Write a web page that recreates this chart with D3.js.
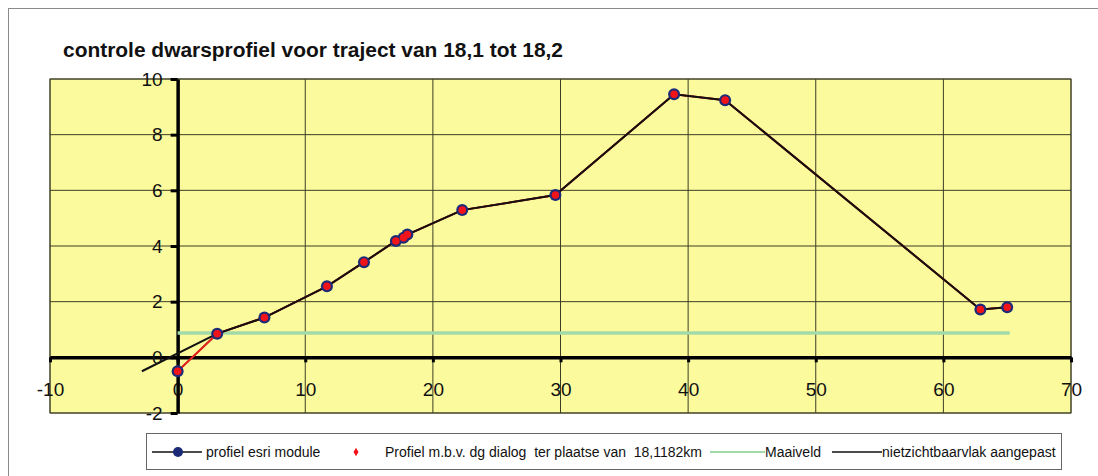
<!DOCTYPE html>
<html>
<head>
<meta charset="utf-8">
<script src="https://cdn.jsdelivr.net/npm/d3@7"></script>
<style>
  body { margin: 0; background: #fff; }
  svg { font-family: "Liberation Sans", Arial, sans-serif; }
</style>
</head>
<body>
<div id="chart"></div>
<script>
// series data
var profileX = [0, 3.1, 6.8, 11.7, 14.6, 17.1, 17.7, 18.0, 22.3, 29.6, 38.9, 42.9, 62.9, 65.0];
var profileY = [-0.5, 0.85, 1.43, 2.55, 3.42, 4.18, 4.3, 4.41, 5.29, 5.83, 9.45, 9.24, 1.72, 1.8];
var dgX = [0, 3.1, 6.8, 11.7, 14.6, 17.1, 17.7, 18.0, 22.3, 29.6, 38.9, 42.9, 62.9, 65.0];
var dgY = [-0.5, 0.85, 1.43, 2.55, 3.42, 4.18, 4.3, 4.41, 5.29, 5.83, 9.45, 9.24, 1.72, 1.8];
var maaiveldX = [0, 65.2];
var maaiveldY = [0.87, 0.87];
var nzvX = [-2.8, 3.1, 6.8, 11.7, 14.6, 17.1, 17.7, 18.0, 22.3, 29.6, 38.9, 42.9, 62.9, 65.0];
var nzvY = [-0.5, 0.85, 1.43, 2.55, 3.42, 4.18, 4.3, 4.41, 5.29, 5.83, 9.45, 9.24, 1.72, 1.8];

var xTicks = [-10, 0, 10, 20, 30, 40, 50, 60, 70];
var yTicks = [-2, 0, 2, 4, 6, 8, 10];
var legendNames = ["profiel esri module", "Profiel m.b.v. dg dialog  ter plaatse van  18,1182km", "Maaiveld", "nietzichtbaarvlak aangepast"];
var title = "controle dwarsprofiel voor traject van 18,1 tot 18,2";

var width = 1098, height = 476;
var plot = {left: 50, top: 79, right: 1071, bottom: 413};

var svg = d3.select("#chart").append("svg")
    .attr("width", width)
    .attr("height", height);

// outer chart frame (runs off the right/bottom edge)
svg.append("rect")
    .attr("x", 8.5).attr("y", 8.5)
    .attr("width", 1100).attr("height", 480)
    .attr("fill", "#fff")
    .attr("stroke", "#8a8a8a");

svg.append("text")
    .attr("x", 63).attr("y", 57)
    .attr("font-size", 20).attr("font-weight", "bold")
    .attr("textLength", 500)
    .attr("lengthAdjust", "spacingAndGlyphs")
    .attr("fill", "#111")
    .text(title);

var x = d3.scaleLinear().domain([-10, 70]).range([plot.left, plot.right]);
var y = d3.scaleLinear().domain([-2, 10]).range([plot.bottom, plot.top]);

// plot area
svg.append("rect")
    .attr("x", plot.left).attr("y", plot.top)
    .attr("width", plot.right - plot.left).attr("height", plot.bottom - plot.top)
    .attr("fill", "#fbfb9e")
    .attr("stroke", "#4a4a30");

// gridlines
svg.append("g").selectAll("line")
    .data(xTicks).enter().append("line")
    .attr("x1", function (d) { return x(d); })
    .attr("x2", function (d) { return x(d); })
    .attr("y1", plot.top).attr("y2", plot.bottom)
    .attr("stroke", "#3d3d25").attr("stroke-width", 1);

svg.append("g").selectAll("line")
    .data(yTicks).enter().append("line")
    .attr("x1", plot.left).attr("x2", plot.right)
    .attr("y1", function (d) { return y(d); })
    .attr("y2", function (d) { return y(d); })
    .attr("stroke", "#3d3d25").attr("stroke-width", 1);

// axes crossing at 0,0 (plain hyphen for negatives, like the original)
var fmt = function (d) { return String(d); };
var xAxis = svg.append("g")
    .attr("transform", "translate(0," + y(0) + ")")
    .call(d3.axisBottom(x).tickValues(xTicks).tickFormat(fmt).tickSize(5).tickSizeOuter(0).tickPadding(20));
var yAxis = svg.append("g")
    .attr("transform", "translate(" + x(0) + ",0)")
    .call(d3.axisLeft(y).tickValues(yTicks).tickFormat(fmt).tickSize(7).tickSizeOuter(0).tickPadding(8));

[xAxis, yAxis].forEach(function (a) {
    a.select(".domain").attr("stroke", "#000").attr("stroke-width", 3.5);
    a.selectAll(".tick line").attr("stroke", "#000").attr("stroke-width", 3);
    a.selectAll(".tick text")
        .attr("font-size", 19)
        .attr("font-family", "Liberation Sans, Arial, sans-serif")
        .attr("fill", "#111");
});

function pts(xs, ys) {
    return xs.map(function (v, i) { return [v, ys[i]]; });
}
var line = d3.line()
    .x(function (d) { return x(d[0]); })
    .y(function (d) { return y(d[1]); });

// Maaiveld
svg.append("path")
    .datum(pts(maaiveldX, maaiveldY))
    .attr("d", line)
    .attr("fill", "none")
    .attr("stroke", "#a3dba8")
    .attr("stroke-width", 3.5);

// profiel esri module line
svg.append("path")
    .datum(pts(profileX, profileY))
    .attr("d", line)
    .attr("fill", "none")
    .attr("stroke", "#111")
    .attr("stroke-width", 1.5);

// dg dialog line
svg.append("path")
    .datum(pts(dgX, dgY))
    .attr("d", line)
    .attr("fill", "none")
    .attr("stroke", "#e8221c")
    .attr("stroke-width", 2);

// nietzichtbaarvlak aangepast
svg.append("path")
    .datum(pts(nzvX, nzvY))
    .attr("d", line)
    .attr("fill", "none")
    .attr("stroke", "#111")
    .attr("stroke-width", 2);

// markers
svg.append("g").selectAll("circle")
    .data(pts(profileX, profileY)).enter().append("circle")
    .attr("cx", function (d) { return x(d[0]); })
    .attr("cy", function (d) { return y(d[1]); })
    .attr("r", 6)
    .attr("fill", "#1c2a78");

svg.append("g").selectAll("circle")
    .data(pts(dgX, dgY)).enter().append("circle")
    .attr("cx", function (d) { return x(d[0]); })
    .attr("cy", function (d) { return y(d[1]); })
    .attr("r", 3.8)
    .attr("fill", "#f0141a");

// legend
var lg = svg.append("g");
lg.append("rect")
    .attr("x", 146.5).attr("y", 433.5)
    .attr("width", 915).attr("height", 36)
    .attr("fill", "#fff")
    .attr("stroke", "#666");

var ly = 452;
// esri module
lg.append("line").attr("x1", 152).attr("x2", 202).attr("y1", ly).attr("y2", ly)
    .attr("stroke", "#111").attr("stroke-width", 1.5);
lg.append("circle").attr("cx", 178).attr("cy", ly).attr("r", 5).attr("fill", "#1c2a78");
// dg dialog
lg.append("path").attr("d", d3.symbol(d3.symbolDiamond, 22)())
    .attr("transform", "translate(356," + ly + ")")
    .attr("fill", "#f0141a");
// Maaiveld
lg.append("line").attr("x1", 710).attr("x2", 765).attr("y1", ly).attr("y2", ly)
    .attr("stroke", "#a3dba8").attr("stroke-width", 2);
// nietzichtbaarvlak
lg.append("line").attr("x1", 832).attr("x2", 882).attr("y1", ly).attr("y2", ly)
    .attr("stroke", "#111").attr("stroke-width", 1.5);

var legendX = [206, 385, 765, 882];
lg.selectAll("text.lt")
    .data(legendNames).enter().append("text")
    .attr("class", "lt")
    .attr("x", function (d, i) { return legendX[i]; })
    .attr("y", ly)
    .attr("dy", "0.35em")
    .attr("font-size", 14)
    .attr("fill", "#111")
    .style("white-space", "pre")
    .attr("xml:space", "preserve")
    .text(function (d) { return d; });
</script>
</body>
</html>
